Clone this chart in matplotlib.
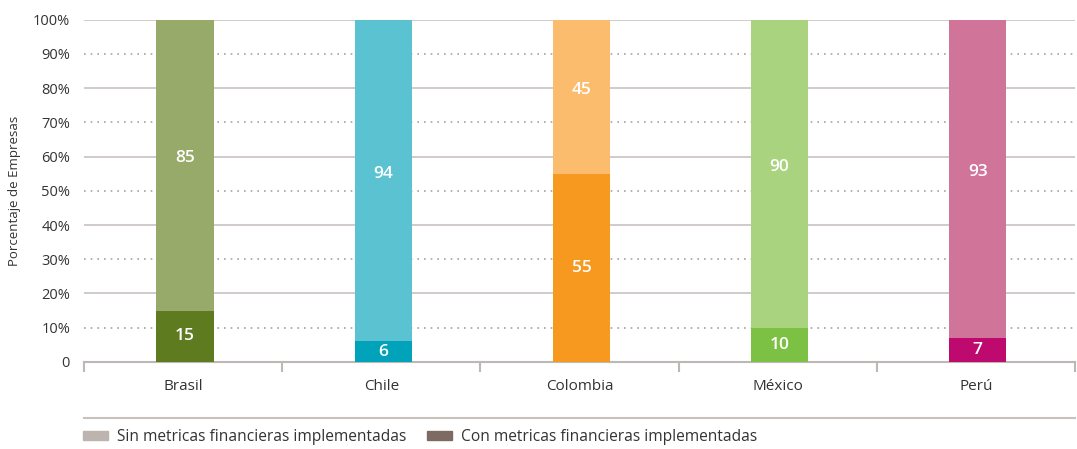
import numpy as np
import matplotlib.pyplot as plt
from matplotlib.patches import Patch
from matplotlib.lines import Line2D

# Data
paises = ['Brasil', 'Chile', 'Colombia', 'México', 'Perú']
con_metricas = [15, 6, 55, 10, 7]
sin_metricas = [85, 94, 45, 90, 93]
col_con = ['#5F7B1F', '#00A3BA', '#F6991E', '#7CC143', '#BE0A6E']
col_sin = ['#98AA6A', '#5BC2D1', '#FBBC6D', '#A9D37F', '#D1749A']

plt.rcParams['font.family'] = ['Open Sans', 'DejaVu Sans']
txt = '#333333'

fig = plt.figure(figsize=(10.77, 4.49), dpi=100)
ax = fig.add_axes([0.078, 0.194, 0.92, 0.762])

x = np.arange(len(paises))
w = 0.29
ax.bar(x + 0.01, con_metricas, w, color=col_con, zorder=3)
ax.bar(x + 0.01, sin_metricas, w, bottom=con_metricas, color=col_sin, zorder=3)

for i in range(len(paises)):
    ax.text(x[i] + 0.01, con_metricas[i] / 2, str(con_metricas[i]), ha='center', va='center',
            color='white', fontsize=12.5, fontweight='semibold', zorder=4)
    ax.text(x[i] + 0.01, con_metricas[i] + sin_metricas[i] / 2 + 2, str(sin_metricas[i]),
            ha='center', va='center', color='white', fontsize=12.5, fontweight='semibold', zorder=4)

# Gridlines: solid every 20, dotted in between
for v in range(10, 101, 10):
    if v % 20 == 0:
        ax.axhline(v, color='#C8C2BF', lw=1.2, zorder=1)
    else:
        ax.axhline(v, color='#A8A2A0', lw=1.2, ls=(0, (1, 3)), zorder=1)

ax.set_xlim(-0.5, len(paises) - 0.5)
ax.set_ylim(0, 100)
ax.set_yticks(range(0, 101, 10))
ax.set_yticklabels(['0'] + ['%d%%' % v for v in range(10, 101, 10)], fontsize=10.5, color=txt)
ax.set_xticks(x)
ax.set_xticklabels(paises, fontsize=11, color=txt)
ax.tick_params(axis='y', length=0, pad=10)
ax.tick_params(axis='x', length=0, pad=12)
for b in np.arange(-0.5, len(paises), 1.0):
    ax.plot([b, b], [0, -2.6], color='#BDB8B5', lw=1.5, clip_on=False, zorder=2)

for s in ['top', 'right', 'left']:
    ax.spines[s].set_visible(False)
ax.spines['bottom'].set_color('#BDB8B5')
ax.spines['bottom'].set_linewidth(1.5)

ax.set_ylabel('Porcentaje de Empresas', fontsize=9.5, color=txt)
ax.yaxis.set_label_coords(-0.064, 0.5)

# Separator line above legend
fig.add_artist(Line2D([0.078, 0.998], [0.069, 0.069], color='#C8C2BF', lw=1.5,
                      transform=fig.transFigure))

handles = [Patch(color='#BDB3AF', label='Sin metricas financieras implementadas'),
           Patch(color='#7D6B63', label='Con metricas financieras implementadas')]
fig.legend(handles=handles, loc='lower left', bbox_to_anchor=(0.064, -0.022), ncol=2,
           frameon=False, fontsize=11.2, handlelength=1.6, handleheight=0.5,
           columnspacing=1.3, handletextpad=0.6, labelcolor=txt)

fig.savefig('out.png', dpi=100)
